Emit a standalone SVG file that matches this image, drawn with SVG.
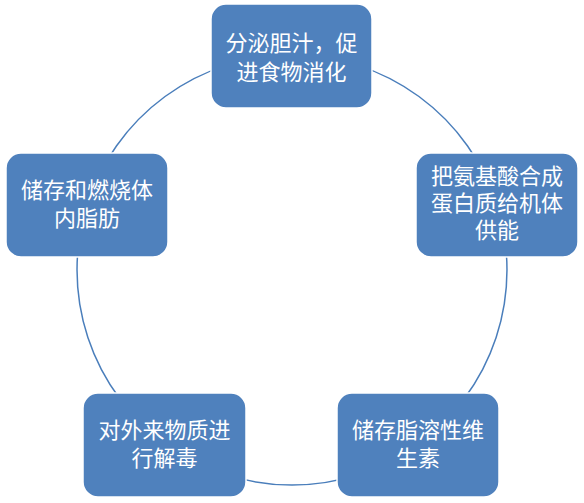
<svg xmlns="http://www.w3.org/2000/svg" width="584" height="503" viewBox="0 0 584 503">
<style>
.box{fill:#4F81BD;stroke:#FFFFFF;stroke-width:1.5}
.arc{fill:none;stroke:#4A7EBB;stroke-width:1.5}
.t{fill:#FFFFFF;font-family:"Liberation Sans","Noto Sans CJK SC",sans-serif;font-size:22px;text-anchor:middle}
</style>
<rect width="584" height="503" fill="#FFFFFF"/>
<g id="connectors">
<path class="arc" d="M292,55 A215,215 0 0 1 496.9,205"/>
<path class="arc" d="M496.9,205 A215,215 0 0 1 417.8,444.4"/>
<path class="arc" d="M417.8,444.4 A215,215 0 0 1 166.2,444.4"/>
<path class="arc" d="M166.2,444.4 A215,215 0 0 1 87.1,205"/>
<path class="arc" d="M87.1,205 A215,215 0 0 1 292,55"/>
</g>
<g id="node1">
<rect class="box" x="211" y="4" width="161" height="104" rx="15"/>
<text class="t"><tspan x="291.5" y="51">分泌胆汁，促</tspan><tspan x="291.5" y="80">进食物消化</tspan></text>
</g>
<g id="node2">
<rect class="box" x="416" y="153" width="162" height="104" rx="15"/>
<text class="t"><tspan x="497" y="184">把氨基酸合成</tspan><tspan x="497" y="211">蛋白质给机体</tspan><tspan x="497" y="238">供能</tspan></text>
</g>
<g id="node3">
<rect class="box" x="337" y="393" width="162" height="104" rx="15"/>
<text class="t"><tspan x="418" y="438">储存脂溶性维</tspan><tspan x="418" y="466">生素</tspan></text>
</g>
<g id="node4">
<rect class="box" x="83" y="393" width="163" height="104" rx="15"/>
<text class="t"><tspan x="164.5" y="438">对外来物质进</tspan><tspan x="164.5" y="466">行解毒</tspan></text>
</g>
<g id="node5">
<rect class="box" x="6" y="153" width="162" height="104" rx="15"/>
<text class="t"><tspan x="87" y="198">储存和燃烧体</tspan><tspan x="87" y="226">内脂肪</tspan></text>
</g>
</svg>
